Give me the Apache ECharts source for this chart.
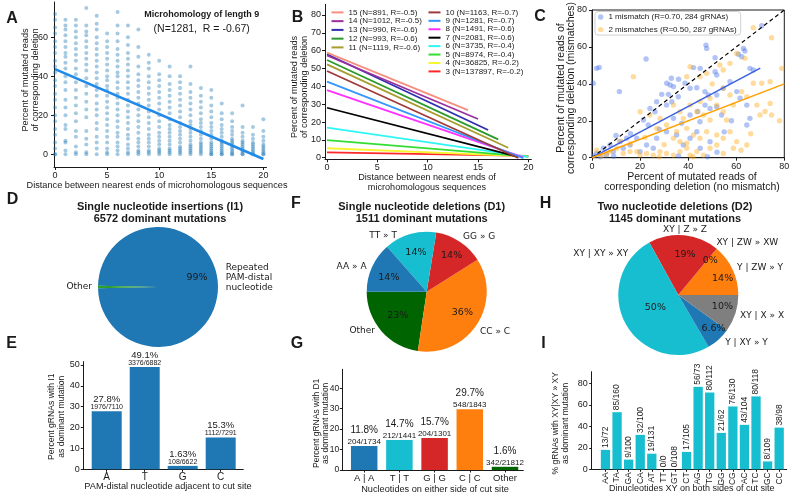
<!DOCTYPE html>
<html><head><meta charset="utf-8">
<script src="https://cdn.jsdelivr.net/npm/echarts@6/dist/echarts.min.js"></script>
<style>html,body{margin:0;padding:0;background:#fff}#c{width:800px;height:500px}</style>
</head><body><div id="c"></div>
<script>
// ================= DATA =================
// Panel A : microhomology of length 9 (x = distance, values = % reads)
const aDistances = [0,1,2,3,4,5,6,7,8,9,10,11,12,13,14,15,16,17,18,19,20];
const aColumns = [
  [0,0,3,6,10,13,17,20,24,28,31,35,38,42,45,48,52,55,58,62,65,69,72],
  [0,2,6,7,13,15,20,24,28,33,37,40,44,47,50,52,55,58,61,64,66,69],
  [0,1,4,9,12,17,21,25,29,33,37,41,44,48,51,54,57,60,63,66,69],
  [0,1,5,8,12,19,23,27,31,35,39,43,46,49,52,55,58,61,63,66,75],
  [0,3,6,9,13,16,20,23,26,30,33,36,39,42,45,48,51,54,57,60,64,67,71],
  [0,1,3,6,9,12,15,18,21,24,27,30,33,35,38,40,43,46,49,52,55,58,62],
  [0,2,4,6,9,11,14,17,20,23,26,29,31,34,37,40,42,45,48,51,54,58,62,66,73],
  [0,1,3,5,8,10,13,16,19,22,25,28,31,34,37,40,43,46,49,52,56,60,66],
  [0,1,2,4,6,8,11,14,17,20,23,26,29,32,35,38,41,45,50,55,64],
  [0,1,2,4,6,8,10,13,16,19,22,25,28,31,34,37,40,44,47,51],
  [0,1,2,3,5,7,9,11,14,17,20,23,26,29,32,35,38,41,48],
  [0,1,2,3,5,7,9,11,13,15,18,21,24,27,30,33,36,40,45],
  [0,1,2,3,4,6,8,10,12,14,16,19,22,25,28,31,34,37,40],
  [0,1,2,3,4,5,7,9,11,13,15,17,20,23,26,29,32,36,45],
  [0,1,2,3,4,5,6,8,10,12,14,16,18,21,24,27,30,34],
  [0,0,1,2,3,4,5,6,8,10,12,14,16,19,22,25,29,33],
  [0,0,1,2,3,4,5,6,7,9,11,13,15,18,21,26],
  [0,0,1,2,3,4,5,6,7,8,10,12,14,17,21],
  [0,0,1,2,3,4,5,6,7,9,11,14,25],
  [0,0,1,2,3,4,5,6,8,10,14],
  [0,0,1,2,3,4,5,7,9,12,18]
];
const aFitX = [0, 20];
const aFitY = [43.7, -2.4];
const aTicksX = [0,5,10,15,20];
const aTicksY = [0,20,40,60];

// Panel B : regression lines per microhomology length
const bLengths = [15,14,13,12,11,10,9,8,7,6,5,4,3];
const bN = [891,1012,990,993,1119,1163,1281,1491,2081,3735,8974,36825,137897];
const bR = [-0.5,-0.5,-0.6,-0.6,-0.6,-0.7,-0.7,-0.6,-0.6,-0.4,-0.4,-0.2,-0.2];
const bStartY = [58.9,57.3,58.0,54.8,52.3,48.6,42.6,37.9,28.0,16.8,9.9,5.3,3.0];
const bEndX = [14,15,16,17,18,19,19.5,19.5,19,20,20,20,20];
const bEndY = [26.7,21.7,15.5,10.3,5.6,-0.2,-0.3,0.2,0.5,0.4,0.6,0.7,1.0];
const bTicksX = [0,5,10,15,20];
const bTicksY = [0,10,20,30,40,50,60,70,80];

// Panel C : mismatches vs no mismatch
const cOneMismatch = [[0.5,40.3],[1.9,48.4],[3.0,48.9],[22.5,53.5],[11.4,35.8],[47.4,61],[47.7,59.2],[70.6,71.5],[63,59.2],[63.6,57.8],[60.9,56],[62.3,54.7],[51.2,54.2],[42.2,48.8],[45,48.4],[51.2,46.6],[51.9,44.8],[65.7,48.4],[67.1,47.5],[31.1,40.3],[32.5,39.4],[33.9,38.5],[38.7,40.3],[40.8,37.6],[43.6,37.9],[29,34.3],[31.8,34.3],[35.9,33],[26.9,30.3],[31,28.5],[33.2,30.3],[24.1,26.7],[26.2,24.9],[21.4,20.4],[23.4,17.7],[33.9,21.3],[37.3,18.6],[40.8,23.1],[44.9,19.5],[47,28.5],[49.1,26.7],[51.9,27.6],[53.9,23.1],[47,35.8],[48.4,34],[51.9,34],[54.6,37.6],[57.4,41.2],[60.2,35.8],[61.6,32.2],[64.4,28.5],[65.7,21.3],[64.4,17.7],[4.7,5.1],[7.5,6.9],[8.9,3.3],[11.6,8.7],[13,5.1],[14.4,10.5],[15.8,6.9],[18.6,10.5],[20,3.3],[22.7,6.9],[25.5,5.1],[26.9,10.5],[31,14.1],[35.2,12.3],[38,6.9],[40.8,10.5],[43.6,14.1],[45,5.1],[49.1,8.7],[1,1],[2,2.5],[3.5,0.5],[6,1.5],[9,0.8],[10,12],[16,13],[28,15.5],[36,42.5],[33,43],[44,25],[55,14],[58,20],[36,1],[48,0.5],[52,3]];
const cTwoMismatches = [[67.1,70.4],[74.7,65],[78.9,48.4],[60.2,56.5],[63.6,53.8],[57.4,51.1],[53.2,50.2],[54.6,47.5],[47.7,45.7],[40.8,49.3],[39.4,43.9],[44.9,43.9],[17.2,43.9],[67.1,40.3],[70.6,40.3],[74.1,41.2],[62.3,35.8],[64.4,33.1],[68.6,28.5],[74.1,29.4],[74.7,23.1],[69.9,23.1],[54.6,37.6],[57.4,34],[58.8,28.5],[49.1,32.2],[51.9,28.5],[54.6,24.9],[56,20.4],[40.8,28.5],[43.6,24.9],[46.4,23.1],[49.1,20.4],[33.9,28.5],[36.6,24.9],[38,21.3],[20,24.9],[24.1,23.1],[28.3,21.3],[26.9,15.9],[31,17.7],[35.2,14.1],[39.4,15.9],[42.2,12.3],[44.9,10.5],[47.7,14.1],[51.9,12.3],[54.6,10.5],[57.4,14.1],[60.2,8.7],[64.4,6.9],[58.8,5.1],[7.5,3.3],[10.3,5.1],[13,2.3],[15.8,3.3],[18.6,3.3],[20,1.4],[22.7,2.3],[25.5,1.4],[28.3,3.3],[31,2.3],[33.9,1.4],[36.6,3.3],[39.4,5.1],[40.8,1.4],[43.6,3.3],[46.4,1.4],[49.1,5.1],[51.9,6.9],[54.6,2.3],[33.9,10.5],[36.6,8.7],[39.4,7.8],[2,4],[4,1],[6,2],[12,9],[16,7.5],[22,11],[30,7],[45,30.5],[50,40],[66,13],[72,25],[62,4],[78,20],[42,0.5],[28,0.5]];
const cFitOne = [[0,0],[70,48.5]];
const cFitTwo = [[0,0],[80,40]];
const cDiagonal = [[0,0],[80,80]];
const cTicks = [0,20,40,60,80];
const cNames = ['1 mismatch (R=0.70, 284 gRNAs)', '2 mismatches (R=0.50, 287 gRNAs)'];

// Panel D : single nucleotide insertions
const dNames = ['Repeated\nPAM-distal\nnucleotide', 'Other'];
const dCounts = [6532, 40];

// Panel E
const eCats = ['A','T','G','C'];
const eNum = [1976, 3376, 108, 1112];
const eDen = [7110, 6882, 6622, 7291];
const eTicksY = [0,10,20,30,40,50];

// Panel F : single nucleotide deletions
const fNames = ['Other','CC » C','GG » G','TT » T','AA » A'];
const fCounts = [342, 548, 204, 212, 204];

// Panel G
const gCats = ['A | A','T | T','G | G','C | C','Other'];
const gNum = [204, 212, 204, 548, 342];
const gDen = [1734, 1441, 1301, 1843, 21812];
const gTicksY = [0,10,20,30,40];

// Panel H : two nucleotide deletions
const hNames = ['Y | ZW » Y','XY | ZW » XW','XY | Z » Z','XY | XY » XY','Y | XY » Y','XY | X » X'];
const hCounts = [160, 0, 218, 577, 76, 114];

// Panel I
const iCats = ['AA','TA','GA','CA','AT','TT','GT','CT','AG','TG','GG','CG','AC','TC','GC','CC'];
const iNum = [13,85,9,32,19,0,0,17,56,80,21,76,43,80,8,38];
const iDen = [72,160,100,100,131,0,108,105,73,112,62,130,104,118,109,98];
const iTicksY = [0,20,40,60,80];

// ================= STYLE =================
const SANS = '"Liberation Sans", Arial, Helvetica, sans-serif';
const DJV = '"DejaVu Sans", sans-serif';
const INK = '#1a1a1a';
const bColors = ['#f78f80','#9a2fa0','#2f2fae','#2a9a2a','#a89c2c','#a03a3a','#3296ff','#ff30ff','#000000','#30f5f5','#33dd33','#f5f530','#ff2828'];
const dColors = ['#1f77b4','#2ca02c'];
const fColors = ['#006400','#ff7f0e','#d62728','#17becf','#1f77b4'];
const gColors = ['#1f77b4','#17becf','#d62728','#ff7f0e','#006400'];
const hColors = ['#ff7f0e','#2ca02c','#d62728','#17becf','#1f77b4','#7f7f7f'];
const dNameNudge = [[1.7,-9.3],[0,0]];
const dPctNudge = [[0,-9.3],[0,0]];
const fNameNudge = [[-1.7,-3.7],[-2,4],[0,0],[-11.5,7.4],[0,2.4]];
const fPctNudge = [[0.6,-1.2],[3,0],[3.4,-3.4],[0,-2],[-2.3,1.5]];
const hNameNudge = [[-1,1],[-4,-1.5],[-21.5,0],[7.4,-74],[2.5,-1.3],[-1,0]];
const hPctNudge = [[9,0],[7,-4],[3,-1.5],[11,-7],[9,5],[7,0]];

// ================= BUILD =================
function valAxis(grid, min, max, ticks, o) {
  o = o || {};
  return {
    type: 'value', gridIndex: grid, min: min, max: max,
    axisLine: {show: true, onZero: false, lineStyle: {color: INK, width: 1}},
    axisTick: {show: o.tickShow !== false, length: o.tick || 3, inside: false, customValues: ticks, lineStyle: {color: INK, width: 1}},
    axisLabel: Object.assign({show: true, customValues: ticks, fontSize: 9, fontFamily: SANS, color: INK, margin: 5, hideOverlap: false}, o.label || {}),
    splitLine: {show: false}, splitArea: {show: false}
  };
}
function idx(n) { return Array.from({length: n}, (_, i) => i); }

const aData = [];
aColumns.forEach((col, k) => col.forEach(v => aData.push([aDistances[k], v])));

const grids = [
  {left: 54, top: 2, width: 212.5, height: 165},
  {left: 325, top: 4.3, width: 206.4, height: 155},
  {left: 592, top: 10, width: 192.3, height: 147.7, show: true, borderColor: INK, borderWidth: 1, backgroundColor: 'transparent'},
  {left: 83.3, top: 361.6, width: 160, height: 107.7},
  {left: 342.3, top: 369.3, width: 181, height: 100.7},
  {left: 591.7, top: 371.7, width: 195, height: 97.6}
].map(g => Object.assign({outerBoundsMode: 'none', containLabel: false}, g));

const xAxes = [
  valAxis(0, -0.1, 20.3, aTicksX, {label: {margin: 4}}),
  valAxis(1, -0.2, 20.3, bTicksX, {label: {margin: 4}}),
  valAxis(2, 0, 80, cTicks, {label: {margin: 4}}),
  valAxis(3, -0.616, 3.595, idx(eCats.length), {tick: 2.5, label: {margin: 3, fontSize: 10, formatter: v => eCats[v]}}),
  valAxis(4, -0.622, 4.52, idx(gCats.length), {tick: 2.5, label: {margin: 3, fontSize: 9.5, formatter: v => gCats[v]}}),
  valAxis(5, -1.19, 15.65, idx(iCats.length), {tick: 2.5, label: {margin: 3, fontSize: 8.5, rotate: 90, formatter: v => iCats[v]}})
];
const yAxes = [
  valAxis(0, -6.5, 78.1, aTicksY, {label: {margin: 6}}),
  valAxis(1, -0.9, 86, bTicksY, {label: {margin: 4}}),
  valAxis(2, 0, 80, cTicks, {label: {margin: 5}}),
  valAxis(3, 0, 51.6, eTicksY, {tick: 2.5, label: {margin: 3.5}}),
  valAxis(4, 0, 49.3, gTicksY, {tick: 2.5, label: {margin: 3, fontSize: 8.5}}),
  valAxis(5, 0, 90.8, iTicksY, {tick: 2.5, label: {margin: 4}})
];

const series = [];
// A
series.push({type: 'scatter', xAxisIndex: 0, yAxisIndex: 0, data: aData, symbolSize: 4,
  itemStyle: {color: 'rgba(31,119,180,0.5)'}, silent: true});
series.push({type: 'line', xAxisIndex: 0, yAxisIndex: 0, data: aFitX.map((x, i) => [x, aFitY[i]]),
  symbol: 'none', lineStyle: {color: '#1f8ae8', width: 2.6}, silent: true, z: 5});
// B
bLengths.forEach((L, i) => {
  series.push({type: 'line', name: `${L} (N=${bN[i]}, R=${bR[i]})`, xAxisIndex: 1, yAxisIndex: 1,
    data: [[0, bStartY[i]], [bEndX[i], bEndY[i]]], symbol: 'none',
    lineStyle: {color: bColors[i], width: 1.8}, itemStyle: {color: bColors[i]}, silent: true, z: 20 - i});
});
// C
series.push({type: 'scatter', name: cNames[0], xAxisIndex: 2, yAxisIndex: 2, data: cOneMismatch, symbolSize: 5.4,
  itemStyle: {color: 'rgba(70,110,230,0.52)'}, silent: true});
series.push({type: 'scatter', name: cNames[1], xAxisIndex: 2, yAxisIndex: 2, data: cTwoMismatches, symbolSize: 5.4,
  itemStyle: {color: 'rgba(255,170,20,0.52)'}, silent: true});
series.push({type: 'line', xAxisIndex: 2, yAxisIndex: 2, data: cDiagonal, symbol: 'none',
  lineStyle: {color: '#000', width: 1.2, type: [4, 3]}, silent: true, z: 6});
series.push({type: 'line', xAxisIndex: 2, yAxisIndex: 2, data: cFitOne, symbol: 'none',
  lineStyle: {color: '#3a5fe0', width: 1.5}, silent: true, z: 6});
series.push({type: 'line', xAxisIndex: 2, yAxisIndex: 2, data: cFitTwo, symbol: 'none',
  lineStyle: {color: '#ff9f00', width: 1.5}, silent: true, z: 6});

// Bars
function barSeries(grid, cats, num, den, colors, width, fmtPct, rich, dist) {
  return {type: 'bar', xAxisIndex: grid, yAxisIndex: grid, barWidth: width, silent: true,
    data: cats.map((c, i) => ({value: [i, den[i] ? num[i] / den[i] * 100 : 0], itemStyle: {color: colors[i % colors.length]}})),
    label: {show: true, position: 'top', distance: dist,
      formatter: p => `{p|${fmtPct(num[p.dataIndex] / den[p.dataIndex] * 100)}%}\n{f|${num[p.dataIndex]}/${den[p.dataIndex]}}`,
      rich: rich}};
}
series.push(barSeries(3, eCats, eNum, eDen, ['#1f77b4'], 30, v => v.toPrecision(3), {
  p: {fontSize: 9.5, fontFamily: SANS, color: INK, lineHeight: 8.5, align: 'center'},
  f: {fontSize: 7, fontFamily: SANS, color: INK, lineHeight: 7, align: 'center'}}, 0.5));
series.push(barSeries(4, gCats, gNum, gDen, gColors, 26.5, v => v.toFixed(1), {
  p: {fontSize: 10, fontFamily: SANS, color: INK, lineHeight: 16, align: 'center'},
  f: {fontSize: 8, fontFamily: SANS, color: INK, lineHeight: 8, align: 'center'}}, 0));
series.push({type: 'bar', xAxisIndex: 5, yAxisIndex: 5, barWidth: 9.3, silent: true,
  data: iCats.map((c, i) => [i, iDen[i] ? iNum[i] / iDen[i] * 100 : 0]),
  itemStyle: {color: '#17becf'},
  label: {show: true, position: 'top', rotate: 90, align: 'left', verticalAlign: 'middle', distance: 2,
    fontSize: 8.5, fontFamily: SANS, color: INK,
    formatter: p => `${iNum[p.dataIndex]}/${iDen[p.dataIndex]}`}});

// Pies
function pieSeries(center, names, counts, colors, startAngle, nameNudge, pctNudge, pctFmt) {
  const total = counts.reduce((a, b) => a + b, 0);
  const data = names.map((n, i) => ({name: n, value: counts[i], itemStyle: {color: colors[i]}}));
  const base = {type: 'pie', center: center, startAngle: startAngle, clockwise: false, silent: true,
    avoidLabelOverlap: false, animation: false, emphasis: {disabled: true}};
  return [
    Object.assign({}, base, {radius: 60, data: data, itemStyle: {borderWidth: 0},
      label: {show: true, position: 'outside', formatter: '{b}', fontSize: 9, fontFamily: DJV, color: INK, lineHeight: 10,
        distanceToLabelLine: 0},
      labelLine: {show: false, length: 6, length2: 0},
      labelLayout: p => ({dx: nameNudge[p.dataIndex][0], dy: nameNudge[p.dataIndex][1]})}),
    Object.assign({}, base, {radius: 72, z: 3, data: data.map(d => ({name: d.name, value: d.value, itemStyle: {color: 'rgba(0,0,0,0)'}})),
      itemStyle: {borderWidth: 0},
      label: {show: true, position: 'inside', fontSize: 9.5, fontFamily: DJV, color: INK,
        formatter: p => pctFmt(p.value / total * 100)},
      labelLine: {show: false},
      labelLayout: p => ({dx: pctNudge[p.dataIndex][0], dy: pctNudge[p.dataIndex][1]})})
  ];
}
series.push(...pieSeries([158, 287], dNames, dCounts, dColors, 181.1, dNameNudge, dPctNudge, v => v >= 1 ? Math.round(v) + '%' : ''));
series.push(...pieSeries([426.7, 291.7], fNames, fCounts, fColors, 180, fNameNudge, fPctNudge, v => Math.round(v) + '%'));
series.push(...pieSeries([678.3, 295], hNames, hCounts, hColors, 0, hNameNudge, hPctNudge, v => Number(v.toPrecision(2)) + '%'));

// Texts
function T(x, y, text, size, o) {
  o = o || {};
  return {type: 'text', x: x, y: y, rotation: o.rot || 0, silent: true, z: 50,
    style: {text: text, fontSize: size, fontFamily: o.family || SANS, fontWeight: o.bold ? 'bold' : 'normal',
      fill: INK, align: o.align || 'center', verticalAlign: 'middle', lineHeight: o.lh || size * 1.12}};
}
const R90 = Math.PI / 2;
const graphics = [
  T(12, 19, 'A', 16, {bold: true}), T(297.5, 17.5, 'B', 16, {bold: true}), T(540, 17, 'C', 16, {bold: true}),
  T(12.5, 199.5, 'D', 16, {bold: true}), T(11.5, 343.5, 'E', 16, {bold: true}), T(296, 203.5, 'F', 16, {bold: true}),
  T(297, 343.5, 'G', 16, {bold: true}), T(545.5, 203.5, 'H', 16, {bold: true}), T(543.5, 343.5, 'I', 16, {bold: true}),
  T(201.7, 15, 'Microhomology of length 9', 9, {bold: true}),
  T(201.7, 29, '(N=1281,  R = -0.67)', 10.5),
  T(157, 185, 'Distance between nearest ends of microhomologous sequences', 9.2),
  T(30, 80, 'Percent of mutated reads\nof corresponding deletion', 9.2, {rot: R90, lh: 10}),
  T(427, 182, 'Distance between nearest ends of\nmicrohomologous sequences', 9.1, {lh: 10}),
  T(299.5, 87, 'Percent of mutated reads\nof corresponding deletion', 9.1, {rot: R90, lh: 9.5}),
  T(692, 181.7, 'Percent of mutated reads of\ncorresponding deletion (no mismatch)', 10.5, {lh: 10}),
  T(566, 88, 'Percent of mutated reads of\ncorresponding deletion (mismatches)', 10.5, {rot: R90, lh: 10}),
  T(160, 213.3, 'Single nucleotide insertions (I1)\n6572 dominant mutations', 11, {bold: true, lh: 12}),
  T(421.7, 213.3, 'Single nucleotide deletions (D1)\n1511 dominant mutations', 11, {bold: true, lh: 12}),
  T(675, 213.3, 'Two nucleotide deletions (D2)\n1145 dominant mutations', 11, {bold: true, lh: 12}),
  T(168, 486.7, 'PAM-distal nucleotide adjacent to cut site', 9.2),
  T(57, 416.7, 'Percent gRNAs with I1\nas dominant mutation', 8.6, {rot: R90, lh: 10}),
  T(435, 489.3, 'Nucleotides on either side of cut site', 9.2),
  T(321, 423.3, 'Percent gRNAs with D1\nas dominant mutation', 8.5, {rot: R90, lh: 8.8}),
  T(691.7, 488.3, 'Dinucleotides XY on both sides of cut site', 9),
  T(561, 423.3, '% gRNAs with XY|XY » XY\nas dominant mutation', 8.5, {rot: R90, lh: 10})
];

const legTxt = {fontSize: 8, fontFamily: SANS, color: INK, lineHeight: 8};
const option = {
  animation: false,
  backgroundColor: '#fff',
  grid: grids, xAxis: xAxes, yAxis: yAxes,
  legend: [
    {data: bLengths.slice(0, 5).map((L, i) => `${L} (N=${bN[i]}, R=${bR[i]})`), orient: 'vertical', left: 331.5, top: 8.4,
      icon: 'rect', itemWidth: 12, itemHeight: 2, itemGap: 0.75, padding: 0, selectedMode: false, textStyle: legTxt},
    {data: bLengths.slice(5).map((L, j) => `${L} (N=${bN[j + 5]}, R=${bR[j + 5]})`), orient: 'vertical', left: 428.5, top: 8.4,
      icon: 'rect', itemWidth: 12, itemHeight: 2, itemGap: 0.43, padding: 0, selectedMode: false, textStyle: legTxt},
    {data: cNames, orient: 'vertical', left: 595, top: 11.5, icon: 'circle', itemWidth: 5.4, itemHeight: 5.4,
      itemGap: 3.6, padding: [1, 4, 1, 3], borderColor: '#d0d0d0', borderWidth: 1, borderRadius: 3,
      backgroundColor: 'rgba(255,255,255,0.85)', selectedMode: false,
      textStyle: {fontSize: 8, fontFamily: SANS, color: INK, lineHeight: 9}}
  ],
  series: series,
  graphic: {elements: graphics}
};
const chart = echarts.init(document.getElementById('c'), null, {renderer: 'canvas', width: 800, height: 500});
chart.setOption(option);
</script></body></html>
